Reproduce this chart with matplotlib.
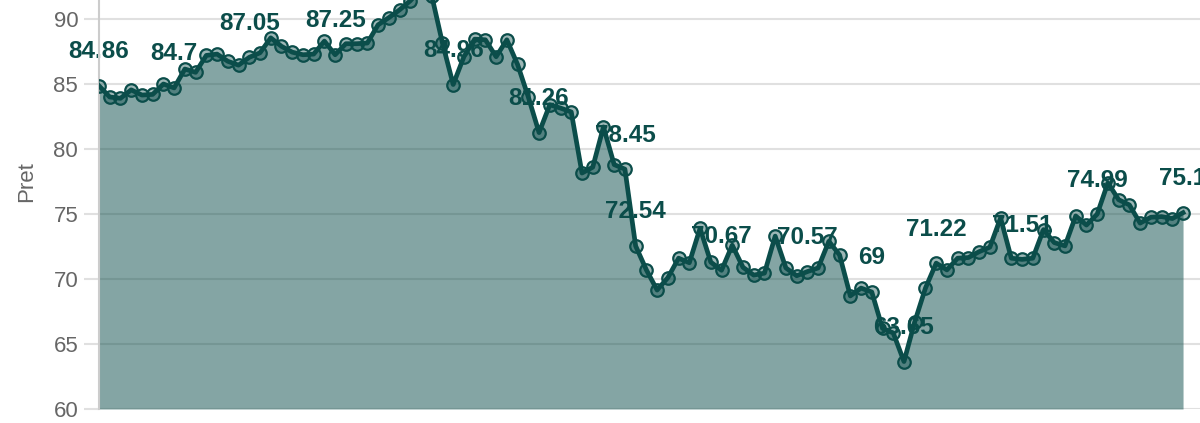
import matplotlib
matplotlib.use("Agg")
import matplotlib.pyplot as plt
import numpy as np

# price series
pret = [
    84.86, 84.0, 83.9, 84.55, 84.15, 84.2, 85.0, 84.7, 86.15, 85.9,
    87.2, 87.3, 86.75, 86.45, 87.05, 87.4, 88.55, 87.9, 87.45, 87.25,
    87.3, 88.3, 87.25, 88.1, 88.1, 88.15, 89.55, 90.1, 90.7, 91.4,
    92.3, 91.8, 88.15, 84.96, 87.1, 88.45, 88.4, 87.1, 88.4, 86.5,
    84.0, 81.26, 83.4, 83.15, 82.85, 78.15, 78.6, 81.7, 78.8, 78.45,
    72.54, 70.7, 69.15, 70.1, 71.6, 71.25, 73.9, 71.3, 70.67, 72.6,
    70.9, 70.3, 70.45, 73.3, 70.85, 70.25, 70.57, 70.85, 72.9, 71.85,
    68.7, 69.3, 69.0, 66.2, 65.85, 63.65, 66.7, 69.3, 71.22, 70.7,
    71.6, 71.65, 72.1, 72.45, 74.7, 71.6, 71.51, 71.6, 73.8, 72.8,
    72.55, 74.85, 74.15, 74.99, 77.4, 76.1, 75.7, 74.3, 74.75, 74.8,
    74.65, 75.1,
]
# points that carry a value label
labeled = [0, 7, 14, 22, 33, 41, 49, 50, 58, 66, 72, 75, 78, 86, 93, 101]
yticks = [60, 65, 70, 75, 80, 85, 90, 95]

teal = "#0b4d4a"
grey = "#666666"
x = np.arange(len(pret))

fig = plt.figure(figsize=(12, 4.23), dpi=100)
ax = fig.add_axes([99 / 1200, 14 / 423, 1101 / 1200, 455 / 423])

ax.fill_between(x, pret, 60, color=teal, alpha=0.5, linewidth=0, zorder=1)
ax.plot(x, pret, color=teal, linewidth=3.4, marker="o", markersize=9,
        markerfacecolor=(0.043, 0.30, 0.29, 0.4), markeredgecolor=teal,
        markeredgewidth=1.6, zorder=3)

for i in labeled:
    ax.annotate(f"{pret[i]:g}", (x[i], pret[i]), xytext=(0, 24.5),
                textcoords="offset points", ha="center", va="center",
                fontsize=17.5, fontweight="bold", color=teal,
                family="Liberation Sans", zorder=2)

ax.set_xlim(0, 102.58)
ax.set_ylim(60, 95)
ax.set_yticks(yticks)
ax.set_xticks([])
ax.set_axisbelow(True)
ax.grid(axis="y", color="#e0e0e0", linewidth=1.5)
ax.tick_params(axis="y", length=11, width=1.5, color="#e0e0e0",
               labelsize=16, labelcolor=grey, pad=4)
for lab in ax.get_yticklabels():
    lab.set_family("Liberation Sans")
ax.set_ylabel("Pret", fontsize=16, color=grey, family="Liberation Sans",
              labelpad=12)

for s in ["top", "right", "bottom"]:
    ax.spines[s].set_visible(False)
ax.spines["left"].set_color("#cccccc")
ax.spines["left"].set_linewidth(1.5)

fig.savefig("out.png", dpi=100)
